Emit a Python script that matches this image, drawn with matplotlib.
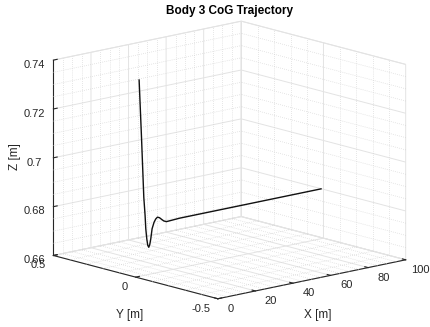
import numpy as np
import matplotlib
matplotlib.use('Agg')
import matplotlib.pyplot as plt
from mpl_toolkits.mplot3d import proj3d

# ---------------- data ----------------
title = 'Body 3 CoG Trajectory'
x_traj = [1.86, 3.13, 4.35, 5.04, 5.41, 5.94, 6.45, 7.0, 7.55, 8.07, 8.76, 9.82, 10.7,
          11.62, 12.7, 13.75, 15.0, 16.4, 23.46, 98.7]
y_traj = [0.0] * len(x_traj)
z_traj = [0.7404, 0.7167, 0.6920, 0.6844, 0.6789, 0.6747, 0.6720, 0.6711, 0.6722, 0.6744,
          0.6784, 0.6809, 0.6821, 0.6827, 0.6823, 0.6815, 0.6806, 0.6801, 0.6804, 0.6804]
x_ticks = [0, 20, 40, 60, 80, 100]
x_tick_labels = ['0', '20', '40', '60', '80', '100']
y_ticks = [-0.5, 0, 0.5]
y_tick_labels = ['-0.5', '0', '0.5']
z_ticks = [0.66, 0.68, 0.70, 0.72, 0.74]
z_tick_labels = ['0.66', '0.68', '0.7', '0.72', '0.74']
x_label, y_label, z_label = 'X [m]', 'Y [m]', 'Z [m]'

# ---------------- style ----------------
W, H = 431, 327
plt.rcParams['font.family'] = ['Liberation Sans', 'DejaVu Sans']
plt.rcParams['grid.color'] = '#e3e3e3'
plt.rcParams['grid.linewidth'] = 0.7
plt.rcParams['grid.linestyle'] = '-'
AX_COL = '#262626'

fig = plt.figure(figsize=(W / 100, H / 100), dpi=100)
ax = fig.add_axes([0, 0, 1, 1], projection='3d', proj_type='ortho')
ax.computed_zorder = False
ax.view_init(elev=13.5, azim=-131.6)
ax.set_box_aspect((1, 0.986, 0.8))

xlim, ylim, zlim = (0, 100), (-0.5, 0.5), (0.66, 0.74)

for axis in (ax.xaxis, ax.yaxis, ax.zaxis):
    axis.set_pane_color((1, 1, 1, 1))
    axis.pane.set_edgecolor('#e3e3e3')
    axis.pane.set_linewidth(0.7)
    axis.line.set_color(AX_COL)
    axis.line.set_linewidth(0.8)
    axis._axinfo['tick']['inward_factor'] = 0.0
    axis._axinfo['tick']['outward_factor'] = 0.25
    axis._axinfo['tick']['color'] = AX_COL
    axis._axinfo['tick']['linewidth'] = {True: 0.8, False: 0.5}

# minor grid (dotted)
mc = '#cfcfcf'
mls = (0, (1, 2))
mlw = 0.5
for xv in np.arange(0, 100.1, 5):
    if xv % 20:
        ax.plot([xv, xv], [-0.5, 0.5], [0.66, 0.66], color=mc, ls=mls, lw=mlw, zorder=1)
        ax.plot([xv, xv], [0.5, 0.5], [0.66, 0.74], color=mc, ls=mls, lw=mlw, zorder=1)
for yv in np.arange(-0.5, 0.51, 0.1):
    if abs(yv) > 1e-9 and abs(abs(yv) - 0.5) > 1e-9:
        ax.plot([0, 100], [yv, yv], [0.66, 0.66], color=mc, ls=mls, lw=mlw, zorder=1)
        ax.plot([100, 100], [yv, yv], [0.66, 0.74], color=mc, ls=mls, lw=mlw, zorder=1)
for zv in np.arange(0.66, 0.7401, 0.005):
    if abs(round(zv / 0.02) * 0.02 - zv) > 1e-9:
        ax.plot([0, 100], [0.5, 0.5], [zv, zv], color=mc, ls=mls, lw=mlw, zorder=1)
        ax.plot([100, 100], [-0.5, 0.5], [zv, zv], color=mc, ls=mls, lw=mlw, zorder=1)

ax.plot(x_traj, y_traj, z_traj, color='#111111', lw=1.0, zorder=10)

ax.set_xlim(*xlim)
ax.set_ylim(*ylim)
ax.set_zlim(*zlim)
ax.set_xticks(x_ticks)
ax.set_yticks(y_ticks)
ax.set_zticks(z_ticks, z_tick_labels)
ax.tick_params(labelsize=8, colors=AX_COL)
ax.tick_params(axis='x', labelbottom=False, labeltop=False)
ax.tick_params(axis='y', labelleft=False, labelright=False)
ax.tick_params(axis='z', pad=0)

fig.suptitle(title, x=230 / W, y=1 - 11 / H, va='center', fontweight='bold', fontsize=8.5)
fig.text(15 / W, 1 - 157 / H, z_label, rotation=90, ha='center', va='center', fontsize=8.5, color=AX_COL)
fig.text(130 / W, 1 - 315 / H, y_label, ha='center', va='center', fontsize=8.5, color=AX_COL)
fig.text(318 / W, 1 - 315 / H, x_label, ha='center', va='center', fontsize=8.5, color=AX_COL)


def project(px, py, pz):
    M = ax.get_proj()
    xs, ys, _ = proj3d.proj_transform(np.array([px]), np.array([py]), np.array([pz]), M)
    return ax.transData.transform((xs[0], ys[0]))


# ---------------- calibrate box placement to match layout ----------------
fig.canvas.draw()
targets = [((0, -0.5, 0.66), (218.3, 298.3)),
           ((0, 0.5, 0.66), (53.3, 255.7)),
           ((100, -0.5, 0.66), (406.7, 259.3)),
           ((0, 0.5, 0.74), (53.3, 60.0)),
           ((100, 0.5, 0.74), (240.0, 22.0))]
pos = ax.get_position()
O0 = np.array([pos.x0 * W, pos.y0 * H])
S0 = pos.width * W
A, b = [], []
for (px, py, pz), (tx, ty) in targets:
    q = (project(px, py, pz) - O0) / S0
    A.append([1, 0, q[0]]); b.append(tx)
    A.append([0, 1, q[1]]); b.append(H - ty)
sol = np.linalg.lstsq(np.array(A), np.array(b), rcond=None)[0]
Ox, Oy, S = sol
ax.set_position([Ox / W, Oy / H, S / W, S / H])
fig.canvas.draw()

# x / y tick labels placed just outside the floor edges
tick_texts = []
for xv, lab in zip(x_ticks, x_tick_labels):
    d = project(xv, ylim[0] - 0.0576, zlim[0] - 0.00307)
    tick_texts.append(fig.text(d[0] / W, d[1] / H, lab, ha='left', va='center',
                               fontsize=8, color=AX_COL))
for yv, lab in zip(y_ticks, y_tick_labels):
    d = project(xlim[0] - 3.98, yv, zlim[0] - 0.00345)
    tick_texts.append(fig.text(d[0] / W, d[1] / H, lab, ha='right', va='center',
                               fontsize=8, color=AX_COL))

# keep every tick label inside the canvas
renderer = fig.canvas.get_renderer()
for t in tick_texts:
    bb = t.get_window_extent(renderer)
    if bb.x1 > W - 1:
        x0, y0 = t.get_position()
        t.set_position((x0 - (bb.x1 - (W - 1)) / W, y0))

fig.savefig('out.png', dpi=100)
